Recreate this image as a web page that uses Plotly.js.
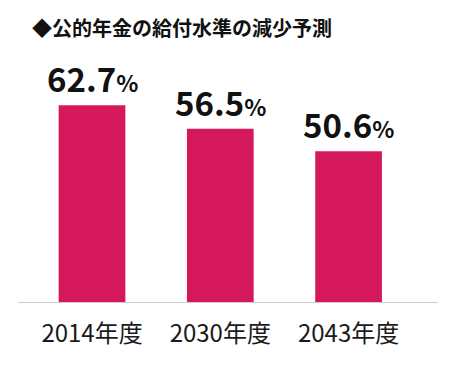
<!DOCTYPE html>
<html>
<head>
<meta charset="utf-8">
<script src="https://cdn.plot.ly/plotly-3.0.1.min.js"></script>
<style>html,body{margin:0;padding:0;background:#fff;}#chart{width:450px;height:367px;}</style>
</head>
<body>
<div id="chart"></div>
<script>
const categories = ["2014年度", "2030年度", "2043年度"];
const values = [62.7, 56.5, 50.6];
const titleText = "◆公的年金の給付水準の減少予測";

const FONT = '"Noto Sans CJK JP", "Noto Sans", sans-serif';
const BAR_COLOR = "#D4185B";

const trace = {
  type: "bar",
  x: categories,
  y: values,
  width: 0.52,
  marker: {color: BAR_COLOR, line: {width: 0}},
  hoverinfo: "none"
};

const annotations = categories.map((c, i) => ({
  x: c,
  y: values[i],
  xref: "x",
  yref: "y",
  text: values[i].toFixed(1) + '<span style="font-size:23px">%</span>',
  showarrow: false,
  xanchor: "center",
  yanchor: "bottom",
  yshift: 1,
  font: {family: FONT, size: 33, color: "#111", weight: "bold"}
}));

const layout = {
  width: 450,
  height: 367,
  margin: {l: 18, r: 12, t: 60, b: 65},
  paper_bgcolor: "#fff",
  plot_bgcolor: "#fff",
  showlegend: false,
  title: {
    text: titleText,
    x: 32 / 450,
    xanchor: "left",
    xref: "container",
    y: 1 - 29 / 367,
    yref: "container",
    yanchor: "middle",
    font: {family: FONT, size: 20, color: "#111", weight: "bold"}
  },
  xaxis: {
    type: "category",
    range: [-0.577, 2.697],
    showline: true,
    linecolor: "#cccccc",
    linewidth: 1,
    showgrid: false,
    zeroline: false,
    ticks: "",
    ticklabelstandoff: 10,
    tickfont: {family: FONT, size: 24, color: "#1a1a1a"},
    fixedrange: true
  },
  yaxis: {
    range: [10.9, 74.6],
    visible: false,
    showgrid: false,
    zeroline: false,
    fixedrange: true
  },
  annotations: annotations
};

Plotly.newPlot("chart", [trace], layout, {displayModeBar: false, staticPlot: true});
</script>
</body>
</html>
